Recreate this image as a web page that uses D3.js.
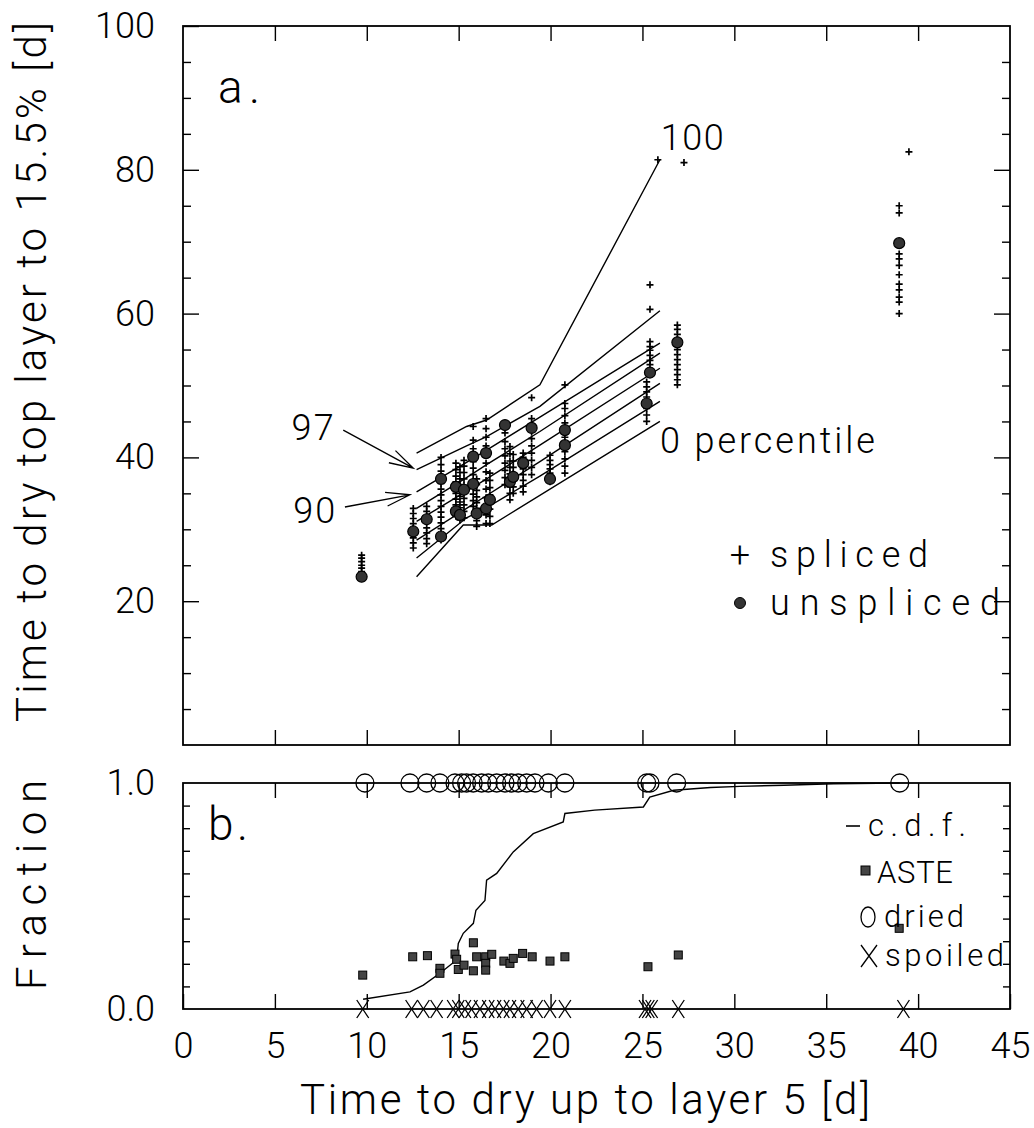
<!DOCTYPE html>
<html>
<head>
<meta charset="utf-8">
<script src="https://cdn.jsdelivr.net/npm/d3@7/dist/d3.min.js"></script>
<style>
  body { margin: 0; background: #fff; }
  svg text { font-family: Roboto, "DejaVu Sans", sans-serif; font-weight: 300; fill: #000; }
</style>
</head>
<body>
<svg id="chart" width="1034" height="1128"></svg>
<script>
// ---- values ----
const xTickLabels = [0, 5, 10, 15, 20, 25, 30, 35, 40, 45];
const yTickLabelsA = [20, 40, 60, 80, 100];
const yTickLabelsB = [0, 1];

// panel a: unspliced runs (big dots)
const unsplicedX = [9.72, 12.53, 13.26, 14.04, 14.04, 14.85, 14.85, 15.07, 15.29, 15.79, 15.79, 15.98, 16.49, 16.49,
  16.70, 17.52, 17.79, 17.97, 18.51, 18.97, 19.97, 20.78, 20.78, 25.23, 25.41, 26.9, 38.97];
const unsplicedY = [23.4, 29.7, 31.4, 37.0, 29.0, 35.9, 32.5, 32.0, 35.5, 40.1, 36.3, 32.2, 40.6, 32.9,
  34.1, 44.5, 36.6, 37.3, 39.2, 44.1, 37.0, 43.8, 41.7, 47.5, 51.8, 56.0, 69.8];

// panel a: spliced runs (+), one list of values per column
const splicedX = [9.72, 12.53, 13.26, 14.04, 14.85, 15.07, 15.29, 15.79, 15.98, 16.49, 16.70, 17.52, 17.79,
  17.97, 18.51, 18.97, 19.97, 20.78, 25.23, 25.41, 25.84, 26.9, 27.26, 38.97, 39.5];
const splicedY = [
  [23.6, 24.1, 24.6, 25.0, 25.5, 26.0, 26.4],
  [27.4, 28.1, 28.8, 29.4, 30.1, 30.8, 31.5, 32.2, 32.9],
  [28.0, 28.7, 29.5, 30.2, 31.0, 31.8, 32.5, 33.2],
  [28.5, 29.3, 30.1, 30.9, 31.7, 32.4, 33.2, 34.0, 34.8, 35.6, 36.4, 37.2, 38.1, 39.0, 40.0],
  [31.8, 32.6, 33.4, 34.2, 35.0, 35.8, 36.6, 37.4, 38.3, 39.2],
  [31.3, 32.2, 33.0, 33.8, 34.6, 35.4, 36.2, 37.0, 37.9, 38.7],
  [31.6, 32.5, 33.4, 34.3, 35.2, 36.1, 37.0, 37.9, 38.8, 39.6],
  [33.2, 34.0, 34.9, 35.8, 36.7, 37.6, 38.5, 39.4, 40.3, 41.2, 42.4, 44.3],
  [30.4, 31.2, 32.0, 32.9, 33.7, 34.5, 35.4, 36.2, 37.0],
  [30.8, 32.0, 33.2, 34.4, 35.6, 36.8, 38.0, 39.2, 40.4, 41.6, 42.8, 44.0, 45.4],
  [30.8, 31.8, 32.8, 33.8, 34.8, 35.8, 36.8, 37.8],
  [36.2, 37.2, 38.2, 39.2, 40.2, 41.2, 42.2, 43.4],
  [34.1, 35.0, 35.9, 36.8, 37.7, 38.6, 39.5, 40.5, 41.5],
  [35.0, 35.9, 36.8, 37.7, 38.6, 39.5, 40.4],
  [35.2, 36.0, 36.8, 37.6, 38.4, 39.2, 40.0, 40.6],
  [37.6, 38.6, 39.6, 40.6, 41.6, 42.6, 43.6, 44.6, 45.4, 48.3],
  [36.6, 37.2, 37.8, 38.4, 39.0, 39.6, 40.3],
  [37.8, 38.8, 39.8, 40.8, 41.8, 42.8, 43.8, 44.8, 45.8, 46.8, 47.5, 50.1],
  [45.0, 45.9, 46.8, 48.4, 49.1, 49.8, 50.5],
  [51.7, 52.9, 53.5, 54.2, 54.9, 55.4, 56.1, 60.6, 64.0],
  [81.4],
  [50.1, 50.8, 51.5, 52.2, 52.9, 53.6, 54.3, 55.0, 55.7, 56.4, 57.1, 57.8, 58.4],
  [81.0],
  [60.0, 61.6, 62.3, 63.3, 64.1, 65.4, 66.7, 67.6, 68.3, 74.0, 75.0],
  [82.5]
];

// panel a: percentile lines
const pctNames = ['100', '97', '90', '75', '50', '25', '10', '0'];
const pctX = [
  [12.71, 15.43, 16.52, 19.42, 25.95],
  [12.71, 15.43, 16.52, 19.42, 25.95],
  [12.71, 15.43, 16.52, 19.42, 25.95],
  [12.71, 15.43, 16.52, 19.42, 25.95],
  [12.71, 15.43, 16.52, 19.42, 25.95],
  [12.71, 15.43, 16.52, 19.42, 25.95],
  [12.71, 15.43, 16.52, 19.42, 25.95],
  [12.71, 15.25, 16.8, 25.95]
];
const pctY = [
  [40.6, 44.3, 45.2, 50.1, 81.4],
  [38.3, 41.6, 42.9, 47.1, 60.4],
  [35.2, 39.3, 41.0, 45.6, 55.9],
  [32.9, 37.2, 39.0, 43.6, 54.5],
  [31.1, 35.3, 37.0, 41.7, 52.4],
  [28.5, 32.9, 34.7, 39.4, 50.3],
  [26.0, 31.6, 33.0, 37.4, 47.8],
  [23.4, 30.6, 30.6, 45.0]
];

// panel b
const cdfX = [9.8, 12.35, 13.08, 13.98, 14.89, 14.98, 15.25, 15.8, 15.94, 16.43, 16.52, 17.07, 17.97, 19.06,
  20.69, 20.78, 22.4, 25.05, 25.4, 26.7, 28.7, 30.3, 32.7, 35.4, 39.0];
const cdfF = [0.043, 0.076, 0.106, 0.158, 0.217, 0.29, 0.335, 0.379, 0.437, 0.48, 0.57, 0.60, 0.695, 0.776,
  0.828, 0.865, 0.88, 0.894, 0.938, 0.968, 0.98, 0.985, 0.99, 0.997, 1.0];
const asteX = [9.78, 12.5, 13.3, 13.98, 13.98, 14.8, 14.89, 14.98, 15.29, 15.8, 15.8, 15.98, 16.47, 16.47, 16.47,
  16.8, 17.46, 17.79, 17.97, 18.48, 19.0, 19.97, 20.78, 25.3, 26.95, 38.97];
const asteF = [0.150, 0.231, 0.236, 0.180, 0.158, 0.243, 0.220, 0.175, 0.194, 0.293, 0.169, 0.231, 0.231, 0.202, 0.172,
  0.242, 0.212, 0.202, 0.224, 0.246, 0.231, 0.212, 0.231, 0.187, 0.239, 0.357];
const driedX = [9.9, 12.35, 13.26, 13.98, 14.8, 15.16, 15.43, 15.79, 16.25, 16.61, 17.07, 17.52, 17.88, 18.24,
  18.7, 19.15, 19.88, 20.78, 25.23, 25.41, 26.86, 39.0];
const spoiledX = [9.78, 12.44, 13.08, 13.8, 14.7, 14.98, 15.34, 15.7, 16.16, 16.61, 16.98, 17.43, 17.79, 18.24,
  18.7, 19.24, 19.97, 20.78, 25.14, 25.32, 25.5, 26.95, 39.2];

// ---- drawing ----
const svg = d3.select('#chart');
const x = d3.scaleLinear().domain([0, 45]).range([183, 1010]);
const yA = d3.scaleLinear().domain([0, 100]).range([745, 26]);
const yB = d3.scaleLinear().domain([0, 1]).range([1009, 783]);

function frame(y) {
  const [b, t] = y.range();
  svg.append('rect')
    .attr('x', x(0)).attr('y', t)
    .attr('width', x(45) - x(0)).attr('height', b - t)
    .attr('fill', 'none').attr('stroke', '#000').attr('stroke-width', 1.8);
}

function ticks(axisFn, scale, values, size, transform, fmt) {
  const ax = axisFn(scale).tickValues(values).tickSizeInner(-size).tickSizeOuter(0)
    .tickFormat(fmt || (() => ''));
  const g = svg.append('g').attr('transform', transform).call(ax)
    .attr('font-size', null).attr('font-family', null);
  g.select('.domain').remove();
  g.selectAll('line').attr('stroke', '#000').attr('stroke-width', 1.4);
  g.selectAll('text').style('font-size', '36px');
  return g;
}

function label(text, px, py, size, opts = {}) {
  const t = svg.append('text').attr('x', px).attr('y', py).style('font-size', size + 'px').text(text);
  if (opts.len) t.attr('textLength', opts.len);
  if (opts.anchor) t.attr('text-anchor', opts.anchor);
  if (opts.rotate) t.attr('transform', `rotate(-90,${px},${py})`);
  return t;
}

frame(yA);
frame(yB);

// x ticks on both edges of both panels
const xT = d3.range(5, 45, 5);
ticks(d3.axisTop, x, xT, 15, `translate(0,${yA(100)})`);
ticks(d3.axisBottom, x, xT, 15, `translate(0,${yA(0)})`);
ticks(d3.axisTop, x, xT, 15, `translate(0,${yB(1)})`);
ticks(d3.axisBottom, x, xTickLabels, 15, `translate(0,${yB(0)})`, d3.format('d'))
  .call(g => g.selectAll('.tick text').attr('dy', null).attr('y', 23).attr('dominant-baseline', 'hanging'));

// panel a y ticks
const minorA = d3.range(5, 100, 5).filter(v => v % 20 !== 0);
ticks(d3.axisLeft, yA, minorA, 8, `translate(${x(0)},0)`);
ticks(d3.axisRight, yA, minorA, 8, `translate(${x(45)},0)`);
ticks(d3.axisLeft, yA, yTickLabelsA, 16, `translate(${x(0)},0)`, d3.format('d'))
  .call(g => g.selectAll('.tick text').attr('x', -28));
ticks(d3.axisRight, yA, [20, 40, 60, 80], 16, `translate(${x(45)},0)`);

// panel b y ticks
const minorB = d3.range(1, 10).map(v => v / 10);
ticks(d3.axisLeft, yB, minorB, 7, `translate(${x(0)},0)`);
ticks(d3.axisRight, yB, minorB, 7, `translate(${x(45)},0)`);
ticks(d3.axisLeft, yB, yTickLabelsB, 0, `translate(${x(0)},0)`, d3.format('.1f'))
  .call(g => g.selectAll('.tick text').attr('x', -28));

// percentile lines
const line = d3.line();
pctNames.forEach((name, i) => {
  svg.append('path')
    .attr('d', line(pctX[i].map((v, j) => [x(v), yA(pctY[i][j])])))
    .attr('fill', 'none').attr('stroke', '#000').attr('stroke-width', 1.4);
});

// spliced crosses
const spliced = splicedX.flatMap((cx, i) => splicedY[i].map(v => [cx, v]));
svg.append('g').selectAll('path').data(spliced).join('path')
  .attr('transform', d => `translate(${x(d[0])},${yA(d[1])})`)
  .attr('d', 'M-3.5,0H3.5M0,-3.5V3.5')
  .attr('stroke', '#000').attr('stroke-width', 1.7);

// unspliced dots
svg.append('g').selectAll('circle').data(unsplicedX).join('circle')
  .attr('cx', d => x(d)).attr('cy', (d, i) => yA(unsplicedY[i]))
  .attr('r', 5.5).attr('fill', '#333').attr('stroke', '#000').attr('stroke-width', 1.2);

// arrows for 97 and 90
function arrow(from, to) {
  const x0 = x(from[0]), y0 = yA(from[1]), x1 = x(to[0]), y1 = yA(to[1]);
  const a = Math.atan2(y0 - y1, x0 - x1);
  const len = 25, spread = 16 * Math.PI / 180;
  const b1 = [x1 + len * Math.cos(a - spread), y1 + len * Math.sin(a - spread)];
  const b2 = [x1 + len * Math.cos(a + spread), y1 + len * Math.sin(a + spread)];
  svg.append('path')
    .attr('d', `M${x0},${y0}L${x1},${y1}M${b1[0]},${b1[1]}L${x1},${y1}L${b2[0]},${b2[1]}`)
    .attr('fill', 'none').attr('stroke', '#000').attr('stroke-width', 1.3);
}
arrow([8.72, 43.8], [12.53, 38.5]);
arrow([8.81, 33.1], [12.35, 34.8]);

// panel a annotations
label('a.', 218, 103, 46, { len: 42 });
label('100', x(26.0), yA(82.75), 36, { len: 63 });
label('97', x(5.91), yA(42.4), 36, { len: 42 });
label('90', x(6.0), yA(30.9), 36, { len: 42 });
label('0 percentile', x(25.95), yA(40.6), 36, { len: 215 });

// panel a legend
label('+', 740, 567, 36, { anchor: 'middle' });
label('spliced', 770, 567, 36, { len: 158 });
svg.append('circle').attr('cx', 740).attr('cy', 603).attr('r', 5.5).attr('fill', '#333').attr('stroke', '#000');
label('unspliced', 770, 615, 36, { len: 230 });

// panel b: c.d.f.
svg.append('path')
  .attr('d', line(cdfX.map((v, i) => [x(v), yB(cdfF[i])])))
  .attr('fill', 'none').attr('stroke', '#000').attr('stroke-width', 1.4);

// ASTE squares
svg.append('g').selectAll('rect').data(asteX).join('rect')
  .attr('x', d => x(d) - 4).attr('y', (d, i) => yB(asteF[i]) - 4)
  .attr('width', 8).attr('height', 8)
  .attr('fill', '#444').attr('stroke', '#000').attr('stroke-width', 1);

// dried circles at 1.0, spoiled X at 0.0
svg.append('g').selectAll('circle').data(driedX).join('circle')
  .attr('cx', d => x(d)).attr('cy', yB(1)).attr('r', 9)
  .attr('fill', 'none').attr('stroke', '#000').attr('stroke-width', 1.3);
svg.append('g').selectAll('path').data(spoiledX).join('path')
  .attr('transform', d => `translate(${x(d)},${yB(0)})`)
  .attr('d', 'M-6,-9L6,9M6,-9L-6,9')
  .attr('stroke', '#000').attr('stroke-width', 1.3);

// panel b annotations and legend
label('b.', 208, 840, 46, { len: 40 });
svg.append('line').attr('x1', 846).attr('x2', 860).attr('y1', 826).attr('y2', 826)
  .attr('stroke', '#000').attr('stroke-width', 1.6);
label('c.d.f.', 868, 836, 31, { len: 98 });
svg.append('rect').attr('x', 861).attr('y', 866).attr('width', 9).attr('height', 9)
  .attr('fill', '#444').attr('stroke', '#000');
label('ASTE', 877, 883, 31, { len: 76 });
svg.append('ellipse').attr('cx', 868).attr('cy', 917).attr('rx', 7).attr('ry', 10)
  .attr('fill', 'none').attr('stroke', '#000').attr('stroke-width', 1.3);
label('dried', 884, 927, 31, { len: 80 });
svg.append('path').attr('transform', 'translate(869,956)').attr('d', 'M-8,-11L8,11M8,-11L-8,11')
  .attr('stroke', '#000').attr('stroke-width', 1.3);
label('spoiled', 885, 966, 31, { len: 119 });

// axis titles
label('Time to dry top layer to 15.5% [d]', 46, 372, 42, { len: 700, anchor: 'middle', rotate: true });
label('Fraction', 46, 885, 42, { len: 210, anchor: 'middle', rotate: true });
label('Time to dry up to layer 5 [d]', 585, 1114, 42, { len: 570, anchor: 'middle' });
</script>
</body>
</html>
